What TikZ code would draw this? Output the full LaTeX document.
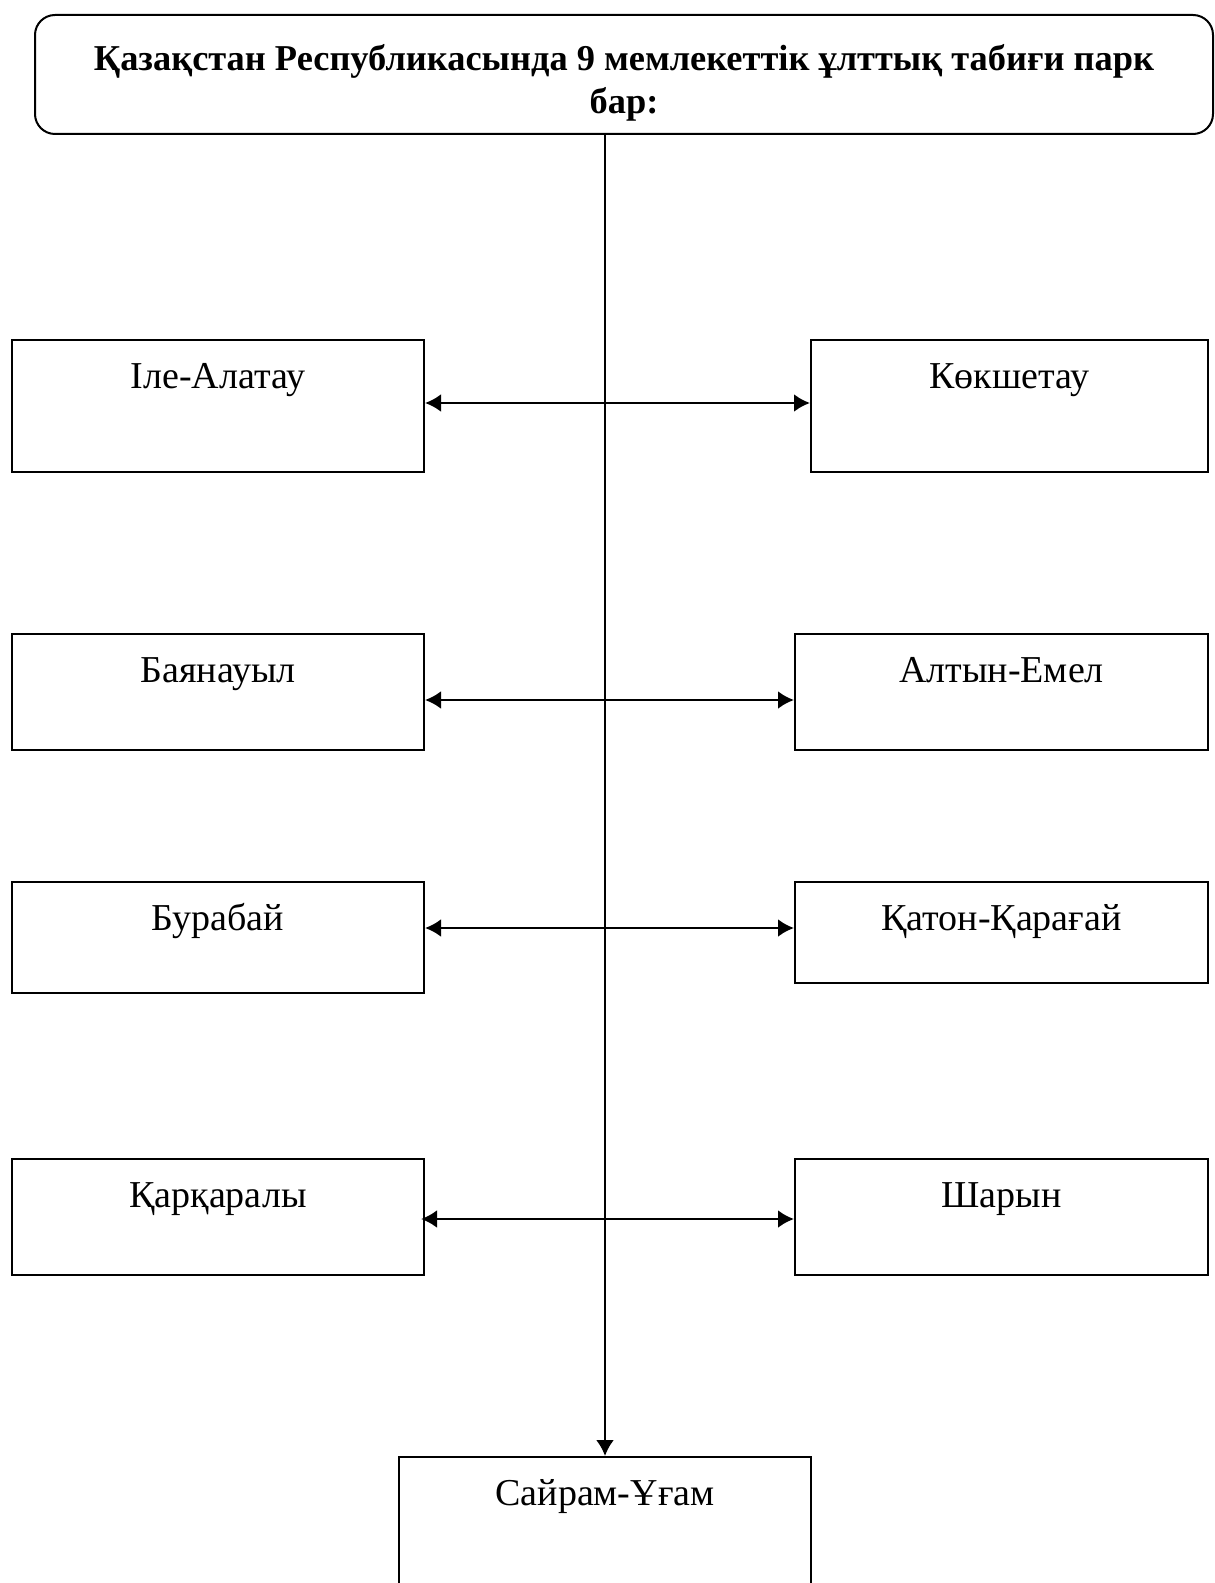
\documentclass[tikz,border=0pt]{standalone}
\usepackage{fontspec}
\setmainfont{Liberation Serif}
\usetikzlibrary{arrows.meta}

\begin{document}
\begin{tikzpicture}[x=0.5pt,y=-0.5pt,
    park/.style={draw, line width=1pt, rectangle, inner xsep=0pt, inner ysep=0pt,
        text height=24pt, font=\fontsize{19}{22}\selectfont},
    link/.style={line width=1.4pt, {Latex[length=8pt,width=9pt]}-{Latex[length=8pt,width=9pt]}}]
    \useasboundingbox (0,0) rectangle (1214,1583);

    % Title
    \node[draw, line width=1pt, rounded corners=10pt, minimum width=589pt, inner ysep=0pt,
        text height=49.5pt, text depth=10pt,
        align=center, font=\bfseries\fontsize{18.2}{21.5}\selectfont] (title) at (624,74.5)
        {Қазақстан Республикасында 9 мемлекеттік ұлттық табиғи парк\\бар:};

    % Left column
    \node[park, minimum width=206pt, text depth=42pt] (ile) at (218,406) {Іле-Алатау};
    \node[park, minimum width=206pt, text depth=34pt] (bay) at (218,692) {Баянауыл};
    \node[park, minimum width=206pt, text depth=31.5pt] (bur) at (218,937.5) {Бурабай};
    \node[park, minimum width=206pt, text depth=34pt] (kar) at (218,1217) {Қарқаралы};

    % Right column
    \node[park, minimum width=198.5pt, text depth=42pt] (kok) at (1009.5,406) {Көкшетау};
    \node[park, minimum width=206.5pt, text depth=34pt] (alt) at (1001.5,692) {Алтын-Емел};
    \node[park, minimum width=206.5pt, text depth=26.5pt] (kat) at (1001.5,932.5) {Қатон-Қарағай};
    \node[park, minimum width=206.5pt, text depth=34pt] (sha) at (1001.5,1217) {Шарын};

    % Bottom
    \node[park, minimum width=206pt, text depth=46pt] (sai) at (605,1527) {Сайрам-Ұғам};

    % Connectors
    \draw[line width=1.2pt, -{Latex[length=8pt,width=9pt]}] (sai.north |- title.south) -- (sai.north);
    \draw[link] ([yshift=1.5pt]ile.east) -- ([yshift=1.5pt]ile.east -| kok.west);
    \draw[link] ([yshift=-4pt]bay.east) -- ([yshift=-4pt]bay.east -| alt.west);
    \draw[link] ([yshift=4.75pt]bur.east) -- ([yshift=4.75pt]bur.east -| kat.west);
    \draw[link, shorten <=-2pt] ([yshift=-1pt]kar.east) -- ([yshift=-1pt]kar.east -| sha.west);
\end{tikzpicture}
\end{document}
